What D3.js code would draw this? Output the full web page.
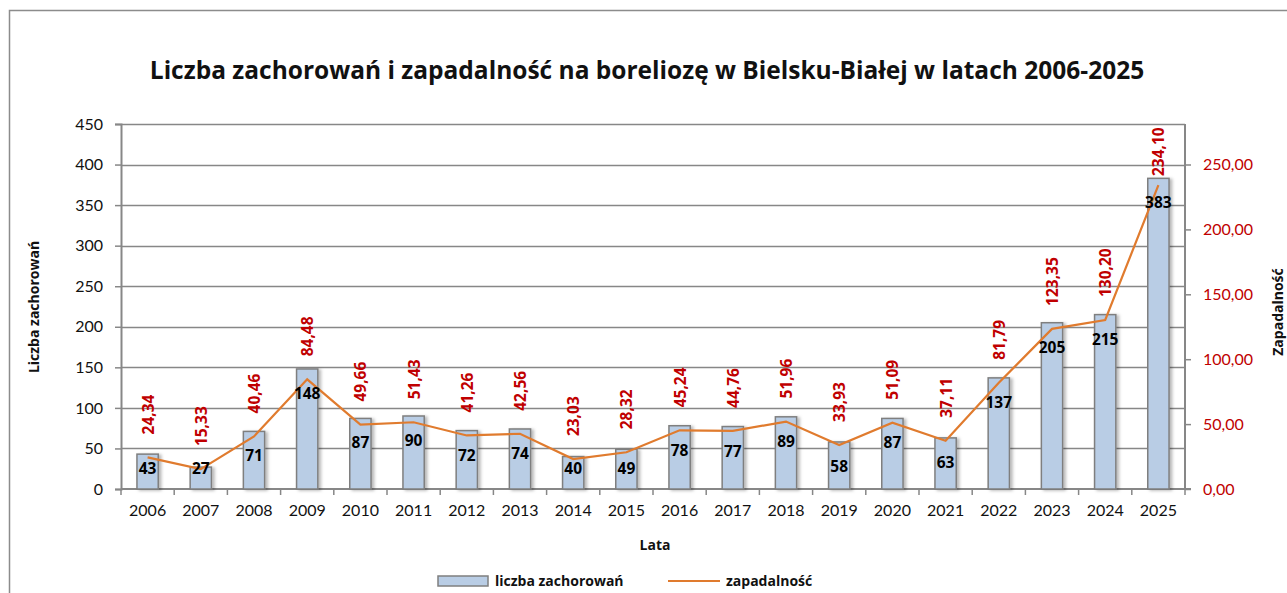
<!DOCTYPE html>
<html>
<head>
<meta charset="utf-8">
<style>
  body { margin: 0; background: #fff; }
  text { font-family: Lato, "Open Sans", sans-serif; }
  text.b { font-family: "Open Sans", Lato, sans-serif; font-weight: bold; }
</style>
</head>
<body>
<svg width="1287" height="593"></svg>
<script src="https://d3js.org/d3.v7.min.js"></script>
<script>
var years = ["2006","2007","2008","2009","2010","2011","2012","2013","2014","2015",
             "2016","2017","2018","2019","2020","2021","2022","2023","2024","2025"];
var cases = [43, 27, 71, 148, 87, 90, 72, 74, 40, 49, 78, 77, 89, 58, 87, 63, 137, 205, 215, 383];
var incidence = [24.34, 15.33, 40.46, 84.48, 49.66, 51.43, 41.26, 42.56, 23.03, 28.32,
                 45.24, 44.76, 51.96, 33.93, 51.09, 37.11, 81.79, 123.35, 130.20, 234.10];
var leftTicks = [0, 50, 100, 150, 200, 250, 300, 350, 400, 450];
var rightTicks = [0, 50, 100, 150, 200, 250];

var grid = "#878787", red = "#c00000", orange = "#e07b2e";
var fmt = function(v){ return v.toFixed(2).replace(".", ","); };

var svg = d3.select("svg");
var plot = { left: 121, right: 1185, top: 124, bottom: 489 };

// outer frame
svg.append("rect").attr("x", 9.5).attr("y", 10.5).attr("width", 1300).attr("height", 620)
   .attr("fill", "none").attr("stroke", "#8c8c8c").attr("stroke-width", 1.5);

var defs = svg.append("defs");
defs.append("filter").attr("id", "shadow").attr("x", "-20%").attr("y", "-10%")
    .attr("width", "150%").attr("height", "130%")
  .append("feDropShadow").attr("dx", 2.5).attr("dy", 1).attr("stdDeviation", 1.8)
    .attr("flood-color", "#000").attr("flood-opacity", 0.28);

var x = d3.scaleBand().domain(years).range([plot.left, plot.right]).paddingInner(0.6).paddingOuter(0.3);
var xc = function(d){ return x(d) + x.bandwidth() / 2; };
var yL = d3.scaleLinear().domain([0, 450]).range([plot.bottom, plot.top]);
var yR = d3.scaleLinear().domain([0, 250]).range([plot.bottom, 164.5]);

// title
svg.append("text").attr("class", "b").attr("x", 647).attr("y", 79).attr("text-anchor", "middle")
   .attr("font-size", 24.5).attr("fill", "#111")
   .text("Liczba zachorowań i zapadalność na boreliozę w Bielsku-Białej w latach 2006-2025");

// gridlines
svg.append("g").selectAll("line").data(leftTicks.slice(1)).join("line")
   .attr("x1", plot.left).attr("x2", plot.right)
   .attr("y1", function(d){ return Math.round(yL(d)) + 0.5; })
   .attr("y2", function(d){ return Math.round(yL(d)) + 0.5; })
   .attr("stroke", grid).attr("stroke-width", 1.3);

// left axis
var axL = svg.append("g").attr("transform", "translate(" + plot.left + ",0)")
   .call(d3.axisLeft(yL).tickValues(leftTicks).tickSize(6).tickPadding(12));
axL.selectAll("text").attr("font-size", 16).attr("fill", "#111").style("font-family", "Lato");

// right axis
var axR = svg.append("g").attr("transform", "translate(" + plot.right + ",0)")
   .call(d3.axisRight(yR).tickValues(rightTicks).tickSize(6).tickPadding(12).tickFormat(fmt));
axR.selectAll("text").attr("font-size", 16).attr("fill", red).style("font-family", "Lato");
axR.select(".domain").attr("d", "M6," + plot.bottom + "H0V" + plot.top);

// x axis
var xBounds = d3.range(years.length + 1).map(function(i){ return plot.left + i * (plot.right - plot.left) / years.length; });
var axX = svg.append("g").attr("transform", "translate(0," + plot.bottom + ")")
   .call(d3.axisBottom(x).tickSize(0).tickPadding(16));
axX.selectAll("text").attr("font-size", 16).attr("fill", "#111").style("font-family", "Lato");
axX.select(".domain").attr("d", "M" + plot.left + ",0H" + plot.right);
axX.selectAll(".bt").data(xBounds).join("line").attr("class", "bt")
   .attr("x1", function(d){ return d; }).attr("x2", function(d){ return d; })
   .attr("y1", 0).attr("y2", 6).attr("stroke", grid);

[axL, axR, axX].forEach(function(a){
  a.selectAll(".domain").attr("stroke", grid).attr("stroke-width", 2);
  a.selectAll(".tick line").attr("stroke", grid).attr("stroke-width", 1.5);
});
axX.selectAll(".bt").attr("stroke-width", 1.5);

// bars
svg.append("g").selectAll("rect").data(years).join("rect")
   .attr("x", function(d){ return x(d); })
   .attr("y", function(d, i){ return yL(cases[i]); })
   .attr("width", x.bandwidth())
   .attr("height", function(d, i){ return yL(0) - yL(cases[i]); })
   .attr("fill", "#b9cde5").attr("stroke", "#7f7f7f").attr("stroke-width", 1.5)
   .attr("filter", "url(#shadow)");

// incidence line
svg.append("path").datum(incidence)
   .attr("d", d3.line().x(function(d, i){ return xc(years[i]); }).y(function(d){ return yR(d); }))
   .attr("fill", "none").attr("stroke", orange).attr("stroke-width", 2.2);

// case count labels
svg.append("g").selectAll("text").data(years).join("text").attr("class", "b")
   .attr("x", function(d){ return xc(d); })
   .attr("y", function(d, i){ return Math.min(yL(cases[i]) + 24, yL(0) - 21); })
   .attr("text-anchor", "middle").attr("dominant-baseline", "central")
   .attr("font-size", 15.5).attr("fill", "#000")
   .text(function(d, i){ return cases[i]; });

// incidence labels (rotated)
svg.append("g").selectAll("text").data(years).join("text").attr("class", "b")
   .attr("transform", function(d, i){
      var yb = Math.max(yR(incidence[i]) - 23, 176);
      return "translate(" + xc(d) + "," + yb + ") rotate(-90)";
   })
   .attr("dominant-baseline", "central")
   .attr("font-size", 15.5).attr("fill", red)
   .text(function(d, i){ return fmt(incidence[i]); });

// axis titles
svg.append("text").attr("class", "b").attr("transform", "translate(33,307) rotate(-90)")
   .attr("text-anchor", "middle").attr("dominant-baseline", "central")
   .attr("font-size", 14).attr("fill", "#111").text("Liczba zachorowań");
svg.append("text").attr("class", "b").attr("transform", "translate(1277,312) rotate(-90)")
   .attr("text-anchor", "middle").attr("dominant-baseline", "central")
   .attr("font-size", 14).attr("fill", "#111").text("Zapadalność");
svg.append("text").attr("class", "b").attr("x", 655).attr("y", 550).attr("text-anchor", "middle")
   .attr("font-size", 14).attr("fill", "#111").text("Lata");

// legend
var lg = svg.append("g");
lg.append("rect").attr("x", 438).attr("y", 576).attr("width", 50).attr("height", 10)
  .attr("fill", "#b9cde5").attr("stroke", "#7f7f7f").attr("stroke-width", 1.5);
lg.append("text").attr("class", "b").attr("x", 495).attr("y", 586).attr("font-size", 14)
  .attr("fill", "#111").text("liczba zachorowań");
lg.append("line").attr("x1", 668).attr("x2", 720).attr("y1", 581).attr("y2", 581)
  .attr("stroke", orange).attr("stroke-width", 2.2);
lg.append("text").attr("class", "b").attr("x", 726).attr("y", 586).attr("font-size", 14)
  .attr("fill", "#111").text("zapadalność");
</script>
</body>
</html>
